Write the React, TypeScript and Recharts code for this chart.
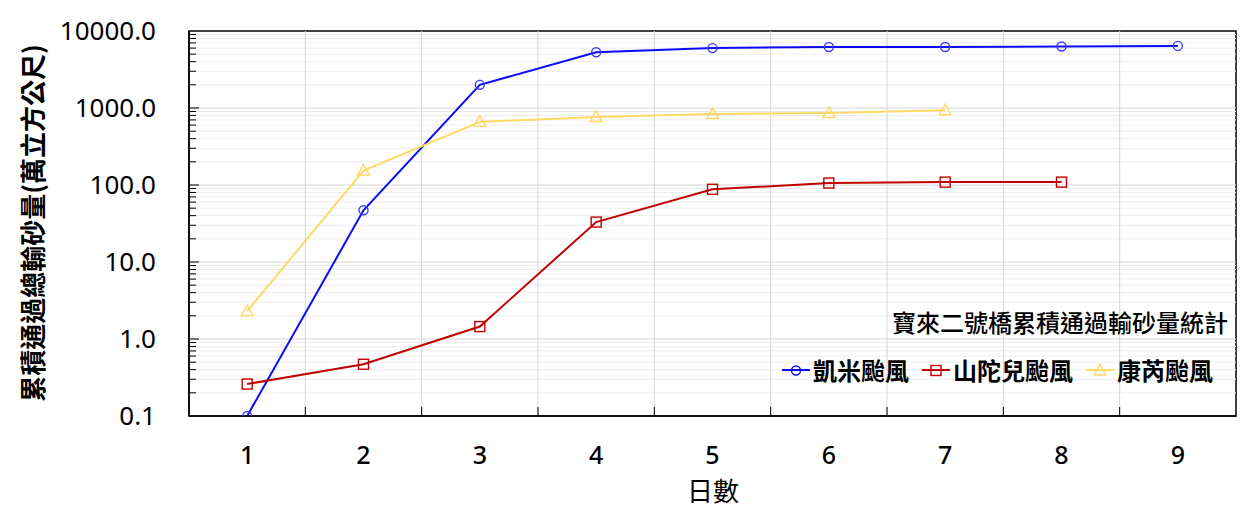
import React from 'react';
import { LineChart, Line, XAxis, YAxis, Legend, ReferenceArea, ReferenceLine } from 'recharts';

const days = [1, 2, 3, 4, 5, 6, 7, 8, 9];
const kaemi = [0.1, 47, 2000, 5300, 6000, 6200, 6200, 6300, 6400];
const krathon = [0.26, 0.47, 1.45, 33, 88, 106, 109, 109];
const kongrey = [2.3, 154, 660, 765, 835, 860, 935];

const majorTicks = [0.1, 1, 10, 100, 1000, 10000];
const innerMajor = [1, 10, 100, 1000];
const minorTicks = [0.1, 1, 10, 100, 1000].flatMap((d) => [2, 3, 4, 5, 6, 7, 8, 9].map((m) => d * m));
const dayBounds = [1.5, 2.5, 3.5, 4.5, 5.5, 6.5, 7.5, 8.5];

const legendTitle = '寶來二號橋累積通過輸砂量統計';

const data = days.map((d, i) => ({
  day: d,
  kaemi: kaemi[i],
  krathon: krathon[i],
  kongrey: kongrey[i],
}));

const BLUE = '#0a0aff';
const RED = '#c00000';
const YELLOW = '#ffd966';

const numFont = '"Noto Sans", "DejaVu Sans", sans-serif';
const cjkFont = '"Noto Sans CJK TC", "Noto Sans CJK SC", sans-serif';

function Marker({ kind, cx, cy, color }: { kind: string; cx: number; cy: number; color: string }) {
  if (kind === 'circle') {
    return <circle cx={cx} cy={cy} r={4.5} fill="none" stroke={color} strokeWidth={1.4} />;
  }
  if (kind === 'square') {
    return <rect x={cx - 5} y={cy - 5} width={10} height={10} fill="none" stroke={color} strokeWidth={1.4} />;
  }
  return (
    <polygon
      points={`${cx},${cy - 6} ${cx - 6},${cy + 4.5} ${cx + 6},${cy + 4.5}`}
      fill="none"
      stroke={color}
      strokeWidth={1.4}
    />
  );
}

const dot = (kind: string, color: string) => (props: any) => {
  const { cx, cy, index } = props;
  if (cx == null || cy == null) return <g key={index} />;
  return <Marker key={index} kind={kind} cx={cx} cy={cy} color={color} />;
};

// gridline across the plot plus a short tick on the left edge
const hGrid = (color: string, tick: number) => (p: any) => (
  <g>
    <line x1={p.x1} y1={p.y1} x2={p.x2} y2={p.y2} stroke={color} strokeWidth={1} />
    <line x1={Math.min(p.x1, p.x2)} y1={p.y1} x2={Math.min(p.x1, p.x2) + tick} y2={p.y1} stroke="#000" strokeWidth={1} />
  </g>
);

// vertical gridline plus a short tick rising from the bottom edge
const vGrid = (p: any) => {
  const bottom = Math.max(p.y1, p.y2);
  return (
    <g>
      <line x1={p.x1} y1={p.y1} x2={p.x2} y2={p.y2} stroke="#d6d6d6" strokeWidth={1} />
      <line x1={p.x1} y1={bottom} x2={p.x1} y2={bottom - 9} stroke="#000" strokeWidth={1} />
    </g>
  );
};

const seriesKinds: Record<string, string> = { kaemi: 'circle', krathon: 'square', kongrey: 'triangle' };

function LegendBox({ payload }: any) {
  return (
    <div style={{ fontFamily: cjkFont, color: '#000', textAlign: 'right', width: 450 }}>
      <div style={{ fontSize: 24, fontWeight: 500, lineHeight: '30px', marginBottom: 18, paddingRight: 2 }}>{legendTitle}</div>
      <div style={{ display: 'flex', justifyContent: 'flex-end', alignItems: 'center', paddingRight: 17 }}>
        {(payload || []).map((p: any, i: number) => (
          <div key={p.dataKey} style={{ display: 'flex', alignItems: 'center', marginLeft: i === 0 ? 0 : 13 }}>
            <svg width={28} height={16} style={{ marginRight: 3 }}>
              <line x1={0} y1={8} x2={28} y2={8} stroke={p.color} strokeWidth={2} />
              <Marker kind={seriesKinds[p.dataKey]} cx={14} cy={8.5} color={p.color} />
            </svg>
            <span style={{ fontSize: 24, fontWeight: 700, lineHeight: '30px' }}>{p.value}</span>
          </div>
        ))}
      </div>
    </div>
  );
}

export default function App() {
  return (
    <div>
      <style>{'body{margin:0;}'}</style>
      <LineChart width={1254} height={516} data={data} margin={{ top: 31, right: 18, bottom: 0, left: 0 }}>
        <XAxis
          dataKey="day"
          type="number"
          domain={[0.5, 9.5]}
          ticks={days}
          height={100}
          tickLine={false}
          tickSize={0}
          tickMargin={30}
          axisLine={{ stroke: '#000', strokeWidth: 1.5 }}
          tick={{ fill: '#000', fontSize: 25, fontWeight: 500, fontFamily: numFont }}
          label={() => (
            <text x={713} y={501} textAnchor="middle" fontSize={26} fontFamily={cjkFont} fill="#000">
              日數
            </text>
          )}
        />
        <YAxis
          scale="log"
          domain={[0.1, 10000]}
          ticks={majorTicks}
          allowDataOverflow
          width={189}
          tickLine={false}
          tickSize={0}
          tickMargin={33}
          axisLine={{ stroke: '#000', strokeWidth: 1.5 }}
          tickFormatter={(v: number) => v.toFixed(1)}
          tick={{ fill: '#000', fontSize: 26, fontFamily: numFont }}
          label={() => (
            <text
              x={43}
              y={223}
              transform="rotate(-90 43 223)"
              textAnchor="middle"
              fontSize={26}
              fontWeight={700}
              fontFamily={cjkFont}
              fill="#000"
            >
              累積通過總輸砂量(萬立方公尺)
            </text>
          )}
        />
        {minorTicks.map((v) => (
          <ReferenceLine key={'mn' + v} y={v} shape={hGrid('#ececec', 7)} />
        ))}
        {dayBounds.map((b) => (
          <ReferenceLine key={'vb' + b} x={b} shape={vGrid} />
        ))}
        {innerMajor.map((v) => (
          <ReferenceLine key={'mj' + v} y={v} shape={hGrid('#d6d6d6', 10)} />
        ))}
        <ReferenceArea x1={0.5} x2={9.5} y1={0.1} y2={10000} fill="none" stroke="#000" strokeWidth={1.5} />
        <Legend
          verticalAlign="middle"
          layout="horizontal"
          align="center"
          content={<LegendBox />}
          wrapperStyle={{ position: 'absolute', top: 307, left: 780, right: 'auto', width: 450 }}
        />
        <Line
          dataKey="kaemi"
          name="凱米颱風"
          stroke={BLUE}
          strokeWidth={2}
          dot={dot('circle', '#3d3dff')}
          activeDot={false}
          isAnimationActive={false}
        />
        <Line
          dataKey="krathon"
          name="山陀兒颱風"
          stroke={RED}
          strokeWidth={2}
          dot={dot('square', RED)}
          activeDot={false}
          isAnimationActive={false}
        />
        <Line
          dataKey="kongrey"
          name="康芮颱風"
          stroke={YELLOW}
          strokeWidth={2}
          dot={dot('triangle', YELLOW)}
          activeDot={false}
          isAnimationActive={false}
        />
      </LineChart>
    </div>
  );
}
